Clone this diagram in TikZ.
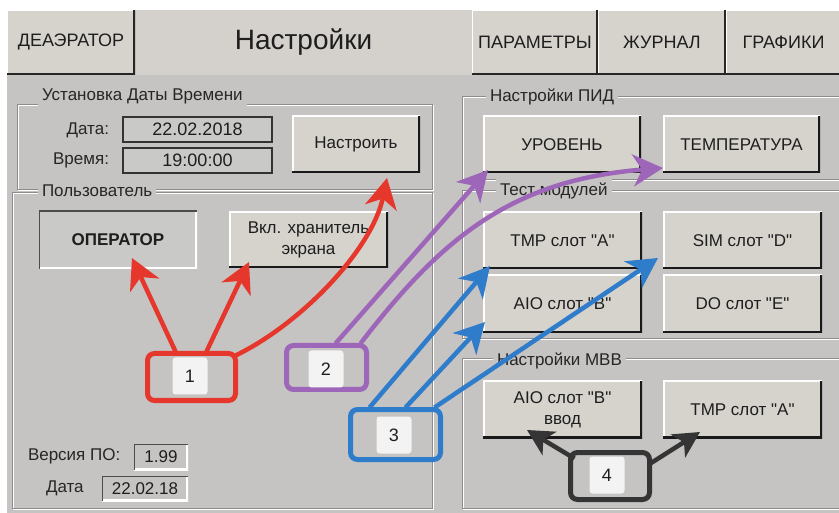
\documentclass[tikz,border=0pt]{standalone}
\usepackage{fontspec}
\setmainfont{Liberation Sans}[Ligatures=TeXOff]
\usetikzlibrary{arrows.meta,calc}

\definecolor{panel}{HTML}{C5C4C2}
\definecolor{face}{HTML}{D6D3CD}
\definecolor{titleface}{HTML}{D4D0CB}
\definecolor{field}{HTML}{C9C9C8}
\definecolor{etchdark}{HTML}{8E8C8A}
\definecolor{ink}{HTML}{1E1E1E}
\definecolor{cred}{HTML}{E6372D}
\definecolor{cpurple}{HTML}{9E66B8}
\definecolor{cblue}{HTML}{2F7CCB}
\definecolor{cdark}{HTML}{353535}
\definecolor{tagfill}{HTML}{F3F3F3}

% etched group-box line: dark stroke with a white highlight one pixel below/right
\newcommand\grpline[1]{%
  \draw[white,line width=1pt,shift={(1,1)}] #1;
  \draw[etchdark,line width=1pt] #1;}

\begin{document}
\begin{tikzpicture}[x=1pt,y=-1pt,
  every node/.style={text=ink,inner sep=0pt,outer sep=0pt},
  ui/.style={font=\fontsize{17}{21}\selectfont},
  big/.style={font=\fontsize{18}{21}\selectfont},
  raised/.style={ui,fill=face,align=center,anchor=north west,
    path picture={
      \draw[white,line width=3pt] (path picture bounding box.south west)
        -- (path picture bounding box.north west) -- (path picture bounding box.north east);
      \draw[black!90,line width=4pt] (path picture bounding box.south west)
        -- (path picture bounding box.south east) -- (path picture bounding box.north east);}},
  tab/.style={big,fill=face,anchor=north west,
    path picture={
      \draw[white,line width=2pt] (path picture bounding box.south west)
        -- (path picture bounding box.north west) -- (path picture bounding box.north east);
      \draw[black!85,line width=4pt] (path picture bounding box.south west)
        -- (path picture bounding box.south east) -- (path picture bounding box.north east);}},
  sunken/.style={ui,fill=#1,anchor=north west,
    path picture={
      \draw[white,line width=4pt] (path picture bounding box.south west)
        -- (path picture bounding box.south east) -- (path picture bounding box.north east);
      \draw[black!70,line width=2.5pt] (path picture bounding box.south west)
        -- (path picture bounding box.north west) -- (path picture bounding box.north east);}},
  fieldbox/.style={fill=field,draw=black!80,line width=1.2pt,anchor=north west,
    font=\fontsize{18}{21}\selectfont},
  grplabel/.style={ui,fill=panel,inner sep=4pt,anchor=west,text=black!85},
  plain/.style={ui,text=black!85},
  callout/.style={draw=#1,line width=5pt,rounded corners=7pt},
  tag/.style={fill=tagfill,rounded corners=3pt,minimum width=35pt,minimum height=37pt,
    font=\fontsize{18}{21}\selectfont},
  arr/.style={draw=#1,line width=4.5pt,-{Stealth[length=30pt,width=32pt,inset=9pt]}},
  arrsmall/.style={draw=#1,line width=4.5pt,-{Stealth[length=26pt,width=27pt,inset=7pt]}}]

\useasboundingbox (0,0) rectangle (839,513);
\fill[white] (0,0) rectangle (839,513);
\fill[panel] (7,75) rectangle (839,513);

% ---- header bar ----
\node[fill=titleface,anchor=north west,minimum width=337pt,minimum height=65pt] (title) at (135,10)
  {\fontsize{28}{32}\selectfont Настройки};
\node[tab,minimum width=128pt,minimum height=65pt] (deaer) at (7,10) {ДЕАЭРАТОР};
\node[tab,minimum width=126pt,minimum height=65pt] (param) at (472,10) {ПАРАМЕТРЫ};
\node[tab,minimum width=128pt,minimum height=65pt] (journ) at (598,10) {ЖУРНАЛ};
\node[tab,minimum width=115pt,minimum height=65pt] (graph) at (726,10) {ГРАФИКИ};

% ---- group frames ----
\grpline{(17,105) rectangle (432,190)}
\grpline{(12,193) -- (432,193) -- (432,508) -- (12,508) -- cycle}
\grpline{(839,97) -- (462,97) -- (462,180) -- (839,180)}
\grpline{(839,191) -- (462,191) -- (462,339) -- (839,339)}
\grpline{(839,359) -- (462,359) -- (462,508) -- (839,508)}

\node[grplabel] (gdate) at (38,96) {Установка Даты Времени};
\node[grplabel] (guser) at (38,191) {Пользователь};
\node[grplabel] (gpid)  at (486,97) {Настройки ПИД};
\node[grplabel] (gtest) at (496,191) {Тест модулей};
\node[grplabel] (gmvv)  at (493,361) {Настройки МВВ};

% ---- date / time ----
\node[plain,anchor=east] (ldate) at (109,130) {Дата:};
\node[plain,anchor=east] (ltime) at (109,160) {Время:};
\node[fieldbox,minimum width=149pt,minimum height=25pt] (vdate) at (123,117) {22.02.2018};
\node[fieldbox,minimum width=149pt,minimum height=25pt] (vtime) at (123,148) {19:00:00};
\node[raised,minimum width=128pt,minimum height=57pt] (nastr) at (292,116) {Настроить};

% ---- user ----
\node[sunken=field,minimum width=158pt,minimum height=58pt,font=\fontsize{17}{21}\selectfont\bfseries]
  (oper) at (39,211) {ОПЕРАТОР};
\node[raised,minimum width=159pt,minimum height=56pt] (saver) at (229,212) {Вкл. хранитель\\экрана};

% ---- version ----
\node[plain,anchor=west] (lver) at (28,456) {Версия ПО:};
\node[plain,anchor=west] (lvdate) at (46,488) {Дата};
\node[sunken=panel,minimum width=54pt,minimum height=26pt] (vver) at (134,444) {1.99};
\node[sunken=panel,minimum width=86pt,minimum height=25pt] (vvdate) at (102,476) {22.02.18};

% ---- PID ----
\node[raised,minimum width=158pt,minimum height=57pt] (urov) at (483,116) {УРОВЕНЬ};
\node[raised,minimum width=157pt,minimum height=57pt] (temp) at (663,116) {ТЕМПЕРАТУРА};

% ---- module test ----
\node[raised,minimum width=159pt,minimum height=57pt] (tmpA) at (483,212) {TMP слот "A"};
\node[raised,minimum width=159pt,minimum height=57pt] (simD) at (663,212) {SIM слот "D"};
\node[raised,minimum width=159pt,minimum height=58pt] (aioB) at (483,275) {AIO слот "B"};
\node[raised,minimum width=159pt,minimum height=58pt] (doE)  at (663,275) {DO слот "E"};

% ---- MVV ----
\node[raised,minimum width=159pt,minimum height=57pt] (aioIn) at (483,381) {AIO слот "B"\\ввод};
\node[raised,minimum width=159pt,minimum height=57pt] (tmpIn) at (663,381) {TMP слот "A"};

% ---- numbered callouts ----
\node[callout=cred,minimum width=88pt,minimum height=47pt] (c1) at (191.5,377) {};
\node[tag] (t1) at (190,376) {1};
\node[callout=cpurple,minimum width=80pt,minimum height=44pt] (c2) at (326.5,367.5) {};
\node[tag] (t2) at (326,369) {2};
\node[callout=cblue,minimum width=90pt,minimum height=50pt] (c3) at (395.5,434.5) {};
\node[tag] (t3) at (394,435) {3};
\node[callout=cdark,minimum width=79pt,minimum height=47pt] (c4) at (610,476) {};
\node[tag] (t4) at (607,475) {4};

% ---- arrows ----
\draw[arr=cred] ($(c1.north west)+(28,-2)$) -- ($(oper.south west)+(93,-11)$);
\draw[arr=cred] ($(c1.north west)+(59,-2)$) -- ($(saver.south west)+(20,-6)$);
\draw[arr=cred] ($(c1.north east)+(-2,3)$) .. controls (300,325) and (372,250) .. ($(nastr.south west)+(95,5)$);

\draw[arr=cpurple] ($(c2.north west)+(49,-2)$) -- ($(urov.south west)+(5,-3)$);
\draw[arr=cpurple] ($(c2.north east)+(-6,-2)$) .. controls (440,240) and (510,180) .. ($(temp.south west)+(0,-5)$);

\draw[arr=cblue] ($(c3.north west)+(19,-2)$) -- ($(tmpA.south west)+(7,-3)$);
\draw[arr=cblue] ($(c3.north west)+(55,-2)$) -- ($(aioB.south west)+(2,-11)$);
\draw[arr=cblue] ($(c3.north east)+(-6,-2)$) -- ($(simD.south west)+(-5,-11)$);

\draw[arrsmall=cdark] ($(c4.north west)+(4,6)$) -- ($(aioIn.south west)+(44,-8)$);
\draw[arrsmall=cdark] ($(c4.east)+(0,-12)$) -- ($(tmpIn.south west)+(37,-6)$);

\end{tikzpicture}
\end{document}
